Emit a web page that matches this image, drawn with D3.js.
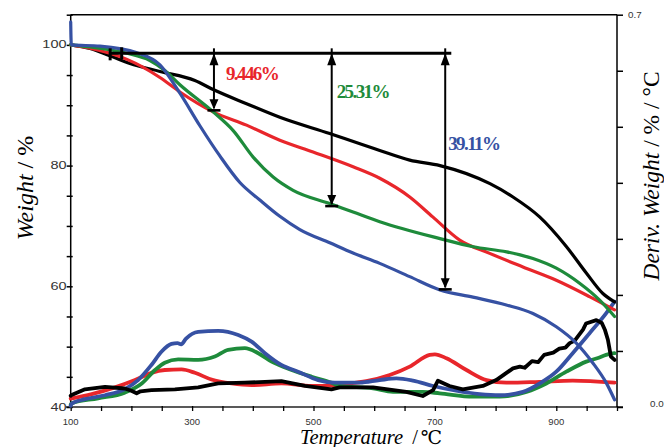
<!DOCTYPE html>
<html>
<head>
<meta charset="utf-8">
<script src="https://cdn.jsdelivr.net/npm/d3@7/dist/d3.min.js"></script>
<style>
  body { margin: 0; background: #fff; }
  svg { display: block; }
</style>
</head>
<body>
<svg id="chart" width="664" height="447"></svg>
<script>
// TG weight curves: [temperature °C, weight %]
const tgBlack = [[100,100],[131.8,99.4],[164.7,98.2],[197.6,96.9],[247,95.6],[304.6,94.1],[334.7,92.6],[389.7,90.25],[444.5,88.0],[526.8,85.3],[609.1,82.5],[658.5,80.9],[708.4,80.0],[790.7,77.0],[828.6,74.8],[872.5,71.5],[916.5,66.6],[949.4,62.2],[976.7,58.8],[996,57.4]];
const tgRed = [[100,100],[131.8,99.45],[164.7,98.6],[192.7,97.6],[247,94.6],[279.9,92.2],[334.7,88.9],[389.7,86.7],[444.5,84.2],[499.3,82.25],[565.2,79.8],[609.1,77.9],[658.5,74.8],[696.4,71.5],[740.8,67.65],[790.2,65.45],[845,63.2],[900,61.0],[954.6,58.3],[996,56.1]];
const tgGreen = [[100,100],[131.8,99.65],[192.7,98.6],[230.5,97.4],[255.2,95.75],[279.9,93.4],[334.7,88.9],[367.7,85.8],[400.6,81.4],[433.5,78.1],[466.4,75.9],[526.8,73.7],[565.2,72.3],[609.1,70.7],[708.4,67.9],[763.2,66.55],[818.2,65.7],[861.5,64.6],[900,63.0],[938.4,60.5],[971.4,57.7],[996,55.0]];
const tgBlue = [[100,103.8],[101,100],[148.2,99.8],[209.1,98.7],[247,96.7],[279.9,92.0],[312.8,86.6],[345.7,81.6],[378.7,77.2],[411.6,74.3],[444.5,71.6],[477.5,69.4],[526.8,67.2],[565.2,65.5],[609.1,63.8],[658.5,61.6],[708.4,59.4],[762.7,58.2],[817.7,56.9],[861.5,55.5],[900,53.3],[932.9,50.6],[960.2,47.3],[982.3,44.0],[996,41.2]];

// DTG derivative curves: [temperature °C, deriv. weight %/°C]
const dtgRed = [[100,0.015],[134.6,0.023],[173,0.035],[206,0.048],[233,0.061],[255,0.066],[282.7,0.067],[304.6,0.061],[332,0.049],[365,0.042],[398,0.039],[447,0.042],[496.7,0.0375],[529.6,0.038],[543,0.04],[587,0.046],[625.6,0.057],[658.5,0.072],[691.4,0.093],[700,0.094],[719,0.087],[752,0.066],[785,0.048],[817.7,0.0434],[872.5,0.045],[927,0.047],[996,0.0434]];
const dtgGreen = [[100,0.004],[101.6,0.0066],[145,0.0155],[189,0.0256],[217,0.042],[239,0.066],[255,0.079],[277,0.085],[310,0.084],[337.5,0.09],[359.4,0.102],[387,0.105],[409,0.096],[431,0.081],[464,0.066],[497,0.054],[529.6,0.0434],[543,0.0375],[598,0.0333],[631,0.027],[680,0.027],[708,0.0244],[763,0.0184],[806.7,0.0184],[850.6,0.027],[883.5,0.042],[916.5,0.063],[949.4,0.081],[970,0.088],[982,0.093],[996,0.096]];
const dtgBlue = [[100,0.002],[101.6,0.006],[123.5,0.014],[156.5,0.021],[189.4,0.032],[211,0.048],[233,0.075],[249.8,0.099],[266,0.1125],[276,0.114],[282,0.112],[290,0.122],[310,0.134],[343,0.136],[376,0.1286],[398,0.1166],[420,0.096],[447,0.075],[474.6,0.063],[507.6,0.048],[535,0.0434],[576,0.0434],[609,0.048],[636.6,0.051],[664,0.047],[697,0.0375],[735,0.029],[773.8,0.023],[806.7,0.021],[845,0.027],[872.5,0.042],[900,0.063],[927,0.096],[954.8,0.1316],[982,0.167],[996,0.188]];
const dtgBlack = [[100,0.02],[101.6,0.0214],[123.5,0.0316],[156.5,0.036],[189,0.033],[200,0.029],[208.6,0.0245],[215,0.028],[233,0.03],[271.7,0.0316],[310,0.035],[343,0.042],[387,0.0434],[447,0.046],[486,0.0375],[529.6,0.0316],[543,0.035],[598,0.035],[653,0.027],[680,0.0196],[697,0.03],[705,0.047],[724,0.0375],[746,0.0316],[779,0.0375],[801,0.048],[828.6,0.069],[840,0.072],[848,0.07],[860,0.082],[870,0.08],[880,0.093],[895,0.097],[905,0.104],[915,0.106],[922,0.114],[930,0.118],[944,0.138],[949,0.149],[966,0.155],[975,0.15],[980,0.138],[985,0.12],[990,0.09],[996,0.084]];

// Weight-loss annotations
const lossTemps = [336, 530, 717];
const lossValues = [9.446, 25.31, 39.11];
const lossLabels = ["9.446%", "25.31%", "39.11%"];
const lossRefWeight = 98.6;
const lossRefSpan = [165, 727];
const onsetMarks = [165, 184];

// Axis ticks
const leftTicks = [40, 60, 80, 100];
const bottomTicks = [100, 300, 500, 700, 900];
const rightTicks = ["0.0", "0.7"];

const colors = { black: "#000000", red: "#e8262b", green: "#1e8b3b", blue: "#3651a3" };

const svg = d3.select("#chart");
const x = d3.scaleLinear().domain([100, 1000]).range([70.7, 617]);
const yW = d3.scaleLinear().domain([40, 105]).range([407, 14.7]);
const yD = d3.scaleLinear().domain([0, 0.7]).range([407, 14.7]);

// frame
const frame = svg.append("g").attr("stroke", "#000").attr("stroke-width", 1.5);
frame.append("line").attr("x1", x(100)).attr("x2", x(1000)).attr("y1", yW(105)).attr("y2", yW(105));
frame.append("line").attr("x1", 66).attr("x2", 623).attr("y1", yW(40)).attr("y2", yW(40)).attr("stroke", "#222");
frame.append("line").attr("x1", x(100)).attr("x2", x(100)).attr("y1", yW(105)).attr("y2", yW(40));
frame.append("line").attr("x1", x(1000)).attr("x2", x(1000)).attr("y1", yW(105)).attr("y2", yW(40));

// left axis ticks
const gl = svg.append("g").attr("transform", `translate(${x(100)},0)`)
  .call(d3.axisLeft(yW).tickValues(d3.range(40, 106, 5)).tickSize(4).tickSizeOuter(0).tickFormat(() => ""));
gl.select(".domain").remove();
gl.selectAll(".tick line").attr("x1", 2).attr("stroke", "#000").attr("stroke-width", 1.5);

// bottom axis ticks
const gb = svg.append("g").attr("transform", `translate(0,${yW(40)})`)
  .call(d3.axisBottom(x).tickValues(d3.range(100, 1001, 50)).tickSize(4).tickSizeOuter(0).tickFormat(() => ""));
gb.select(".domain").remove();
gb.selectAll(".tick line").attr("y1", -1).attr("stroke", "#000").attr("stroke-width", 1.3);

// right axis ticks
const gr = svg.append("g").attr("transform", `translate(${x(1000)},0)`)
  .call(d3.axisRight(yD).tickValues(d3.range(0, 0.71, 0.1)).tickSize(6).tickSizeOuter(0).tickFormat(() => ""));
gr.select(".domain").remove();
gr.selectAll(".tick line").attr("stroke", "#000").attr("stroke-width", 1.5);

// tick labels
const tickFont = "'Liberation Sans', Arial, sans-serif";
svg.append("g").selectAll("text").data(leftTicks).join("text")
  .attr("transform", d => `translate(66.5,${yW(d) + 3.6}) scale(1.45,1)`)
  .attr("text-anchor", "end").attr("font-family", tickFont).attr("font-size", 10).attr("fill", "#333")
  .text(d => d);
svg.append("g").selectAll("text").data(bottomTicks).join("text")
  .attr("x", d => x(d)).attr("y", 424.5).attr("text-anchor", "middle")
  .attr("font-family", tickFont).attr("font-size", 9.5).attr("fill", "#333")
  .text(d => d);
svg.append("text").attr("x", 628).attr("y", yD(0.7) + 3.6).attr("font-family", tickFont)
  .attr("font-size", 9.8).attr("fill", "#333").text(rightTicks[1]);
svg.append("text").attr("x", 650).attr("y", yD(0) - 0.5).attr("font-family", tickFont)
  .attr("font-size", 9.8).attr("fill", "#333").text(rightTicks[0]);

// axis titles
const serif = "'Liberation Serif', 'Times New Roman', serif";
const tY = svg.append("text").attr("transform", "translate(33,188) rotate(-90)")
  .attr("text-anchor", "middle").attr("font-family", serif).attr("font-size", 24);
tY.append("tspan").attr("font-style", "italic").text("Weight");
tY.append("tspan").text(" / %");

const tR = svg.append("text").attr("transform", "translate(659,176) rotate(-90)")
  .attr("text-anchor", "middle").attr("font-family", serif).attr("font-size", 23.5);
tR.append("tspan").attr("font-style", "italic").text("Deriv. Weight");
tR.append("tspan").text(" / % / °C");

const tX = svg.append("text").attr("x", 371).attr("y", 443.5)
  .attr("text-anchor", "middle").attr("font-family", serif).attr("font-size", 20.5);
tX.append("tspan").attr("font-style", "italic").text("Temperature");
tX.append("tspan").attr("dx", 9).text("/");
tX.append("tspan").attr("dx", 3).attr("font-family", "'DejaVu Serif', serif").attr("font-size", 19).text("℃");

// curves
const lineW = d3.line().x(d => x(d[0])).y(d => yW(d[1])).curve(d3.curveMonotoneX);
const lineD = d3.line().x(d => x(d[0])).y(d => yD(d[1])).curve(d3.curveMonotoneX);
const lineDJag = d3.line().x(d => x(d[0])).y(d => yD(d[1])).curve(d3.curveLinear);

const curves = svg.append("g").attr("fill", "none").attr("stroke-linejoin", "round").attr("stroke-linecap", "round");
[[dtgRed, colors.red, lineD], [dtgGreen, colors.green, lineD], [dtgBlue, colors.blue, lineD], [dtgBlack, colors.black, lineDJag]]
  .forEach(([data, c, gen]) => curves.append("path").attr("d", gen(data)).attr("stroke", c).attr("stroke-width", 3.8));
[[tgBlack, colors.black], [tgRed, colors.red], [tgGreen, colors.green], [tgBlue, colors.blue]]
  .forEach(([data, c]) => curves.append("path").attr("d", lineW(data)).attr("stroke", c).attr("stroke-width", 3.2));

// weight-loss reference line and arrows
const ann = svg.append("g");
const refY = yW(lossRefWeight);
ann.append("line").attr("x1", x(lossRefSpan[0])).attr("x2", x(lossRefSpan[1]))
  .attr("y1", refY).attr("y2", refY).attr("stroke", "#000").attr("stroke-width", 3);
onsetMarks.forEach((t, i) => {
  ann.append("line").attr("x1", x(t)).attr("x2", x(t))
    .attr("y1", refY - (i ? 6 : 5)).attr("y2", refY + (i ? 6 : 7)).attr("stroke", "#000").attr("stroke-width", 3);
});
const labelWeights = [95.2, 92.27, 83.64];
const labelDx = [12, 5, 3];
lossTemps.forEach((t, i) => {
  const ax = x(t);
  const bottom = yW(lossRefWeight - lossValues[i]);
  ann.append("line").attr("x1", ax).attr("x2", ax).attr("y1", refY - 5).attr("y2", bottom - 2)
    .attr("stroke", "#000").attr("stroke-width", 2);
  ann.append("path").attr("d", `M${ax},${refY} L${ax - 4.5},${refY + 12} L${ax + 4.5},${refY + 12} Z`).attr("fill", "#000");
  ann.append("path").attr("d", `M${ax - 4.5},${bottom - 11} L${ax + 4.5},${bottom - 11} L${ax},${bottom - 1} Z`).attr("fill", "#000");
  ann.append("line").attr("x1", ax - 6.5).attr("x2", ax + 6.5).attr("y1", bottom).attr("y2", bottom)
    .attr("stroke", "#000").attr("stroke-width", 2.6);
  ann.append("text").attr("x", ax + labelDx[i]).attr("y", yW(labelWeights[i])).attr("dy", "0.35em")
    .attr("font-family", serif).attr("font-weight", "bold").attr("font-size", 19)
    .attr("letter-spacing", -1.6)
    .attr("fill", [colors.red, colors.green, colors.blue][i]).text(lossLabels[i]);
});
</script>
</body>
</html>
